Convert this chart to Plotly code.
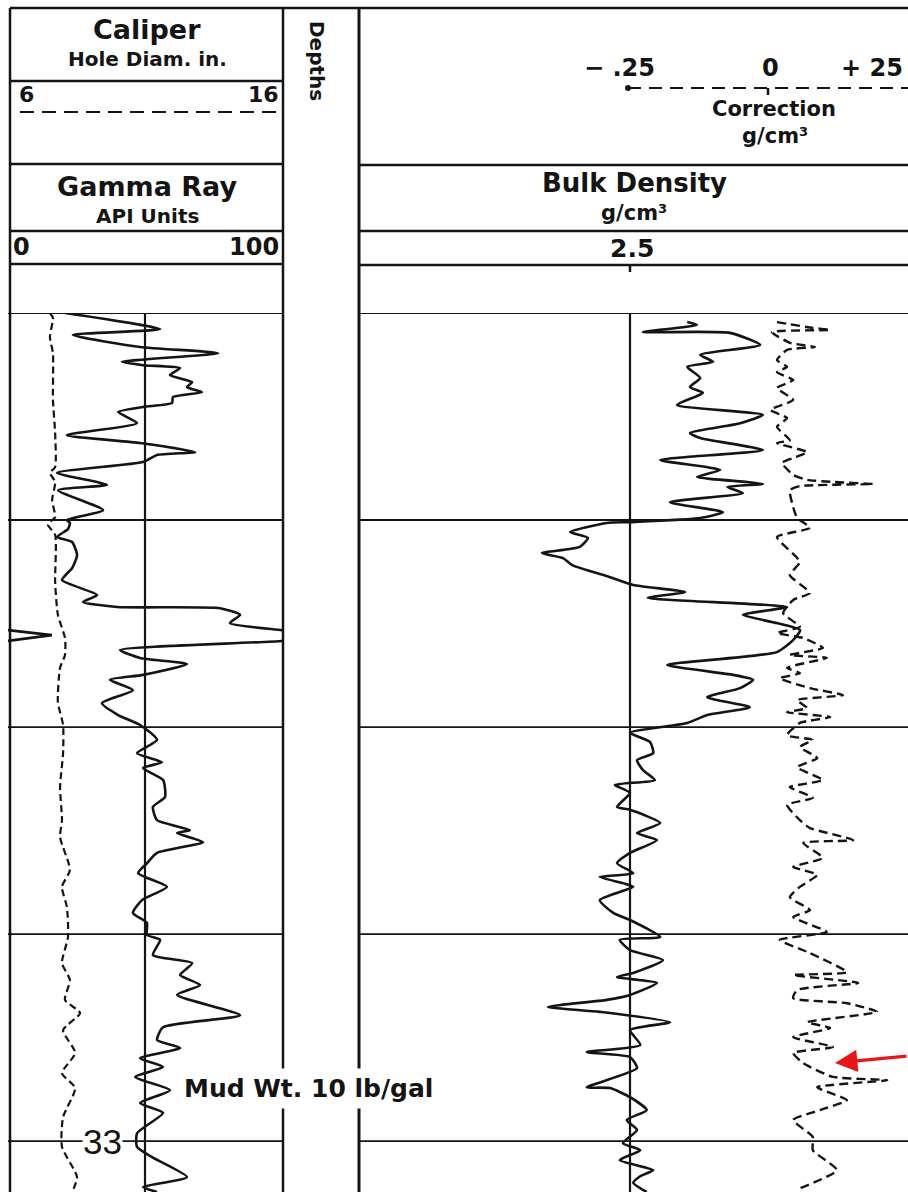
import plotly.graph_objects as go

# ---------------- data (read from the log) ----------------
# depth in ft below the top of the logged interval; grid every 50 ft
depth_grid = [0, 50, 100, 150, 200]

depth_gr = [0, 3.9, 5.3, 8.2, 9.7, 11.8, 12.6, 13.3, 15.0, 16.7, 17.9, 19.1, 20.3, 21.7, 22.7,
            23.9, 26.6, 29.5, 31.4, 33.6, 34.3, 36.0, 38.6, 41.5, 42.8, 47.6, 50.0, 50.7, 52.2,
            54.1, 55.3, 58.5, 61.6, 64.5, 68.1, 69.8, 71.0, 71.3, 72.9, 74.9, 76.6, 77.8, 79.2,
            81.4, 83.3, 84.8, 87.4, 88.6, 91.1, 94.2, 97.1, 99.5, 103.1, 106.3, 108.5, 109.9,
            112.8, 116.9, 119.3, 122.5, 124.9, 125.6, 127.8, 130.4, 132.9, 135.3, 138.6, 141.8,
            144.9, 147.3, 150.2, 151.4, 155.1, 157.0, 159.9, 162.3, 164.7, 169.6, 172.5, 175.6,
            177.5, 180.0, 182.1, 184.5, 187.7, 190.8, 193.2, 198.1, 201.4, 203.9, 208.7, 211.1,
            212.3]
gamma_ray = [20.8, 55.5, 23.7, 48.2, 76.7, 41.6, 49.3, 62.8, 59.1, 67.2, 65.3, 70.8, 60.2, 59.9,
             49.3, 40.2, 47.1, 21.5, 48.2, 68.3, 54.4, 49.3, 17.9, 36.1, 18.3, 34.7, 21.5, 22.6,
             21.9, 17.9, 23.4, 25.2, 23.4, 19.7, 32.5, 27.4, 39.8, 77.4, 84.7, 81.0, 100, 116, 100,
             40.9, 48.2, 65.3, 49.3, 37.2, 45.6, 34.3, 40.2, 48.2, 54.4, 47.1, 56.2, 49.3, 56.6,
             57.3, 52.9, 54.4, 66.4, 61.7, 71.2, 54.4, 50.7, 47.5, 58.0, 48.9, 45.6, 50.7, 50.7,
             55.5, 52.9, 67.2, 62.8, 70.1, 61.7, 84.7, 56.6, 54.4, 62.8, 48.2, 56.6, 46.4, 59.1,
             48.2, 56.6, 47.1, 47.1, 52.6, 65.3, 49.3, 54.4]

depth_cal = [0, 1.2, 5.8, 9.7, 21.0, 29.0, 37.2, 38.6, 40.8, 45.2, 49.3, 50.5, 51.2, 53.6, 65.0,
             72.9, 78.5, 82.6, 85.7, 94.0, 99.5, 106.3, 114.5, 122.5, 126.6, 134.5, 138.6, 143.5,
             150.7, 157.0, 161.1, 165.9, 169.1, 173.2, 178.7, 183.6, 187.2, 194.2, 201.4, 208.7,
             212.3]
caliper = [7.53, 7.64, 7.53, 7.64, 7.64, 7.72, 7.72, 7.53, 7.72, 7.61, 7.72, 7.53, 7.46, 7.72,
           7.72, 7.82, 8.08, 8.08, 7.90, 7.82, 8.01, 8.01, 7.90, 7.97, 7.90, 8.26, 7.97, 8.15,
           8.19, 7.97, 8.26, 8.08, 8.63, 8.01, 8.45, 7.97, 8.45, 8.01, 7.97, 8.52, 8.34]

depth_den = [2.2, 2.9, 4.6, 4.8, 7.7, 10.1, 11.8, 13.0, 15.7, 17.9, 19.3, 22.2, 24.6, 26.6, 29.0,
             30.2, 33.1, 35.5, 37.9, 39.6, 40.8, 41.3, 42.0, 43.5, 45.7, 48.1, 49.5, 50.5, 50.7,
             52.9, 54.3, 56.5, 58.0, 59.2, 60.9, 63.8, 65.7, 67.4, 68.8, 71.0, 72.9, 74.9, 76.6,
             79.0, 81.9, 85.0, 87.4, 88.6, 90.6, 92.8, 95.2, 97.1, 99.0, 101.4, 103.6, 106.3,
             108.0, 110.4, 112.8, 114.0, 115.9, 119.3, 120.0, 123.2, 125.6, 127.3, 130.4, 132.9,
             135.3, 136.2, 137.7, 138.6, 141.8, 144.9, 146.6, 150.7, 151.4, 153.9, 156.3, 159.4,
             160.4, 161.8, 164.7, 165.9, 167.6, 168.8, 171.3, 173.2, 176.8, 178.5, 179.7, 182.4,
             187.0, 187.2, 189.4, 192.5, 194.9, 197.3, 200.5, 202.2, 204.6, 207.0, 208.5, 210.1,
             212.3]
bulk_density = [2.606, 2.624, 2.524, 2.685, 2.741, 2.630, 2.654, 2.606, 2.630, 2.611, 2.635,
                2.587, 2.746, 2.704, 2.611, 2.630, 2.746, 2.556, 2.667, 2.624, 2.717, 2.746,
                2.680, 2.709, 2.574, 2.672, 2.630, 2.500, 2.457, 2.389, 2.422, 2.407, 2.337,
                2.376, 2.393, 2.463, 2.506, 2.602, 2.533, 2.791, 2.709, 2.772, 2.815, 2.802,
                2.772, 2.569, 2.691, 2.728, 2.704, 2.643, 2.722, 2.643, 2.606, 2.500, 2.537,
                2.543, 2.513, 2.524, 2.546, 2.472, 2.500, 2.476, 2.500, 2.556, 2.513, 2.550,
                2.500, 2.476, 2.506, 2.444, 2.487, 2.506, 2.444, 2.469, 2.500, 2.556, 2.481,
                2.500, 2.561, 2.506, 2.476, 2.550, 2.500, 2.457, 2.348, 2.444, 2.574, 2.500,
                2.519, 2.420, 2.500, 2.513, 2.420, 2.463, 2.500, 2.531, 2.494, 2.513, 2.487,
                2.519, 2.481, 2.543, 2.519, 2.506, 2.531]

depth_corr = [2.2, 3.6, 4.1, 4.6, 7.2, 8.2, 8.9, 11.4, 13.0, 14.3, 16.2, 18.1, 21.0, 23.4, 25.4,
              27.5, 30.7, 31.4, 33.6, 35.0, 36.2, 39.1, 40.3, 40.8, 41.3, 41.8, 42.8, 46.9, 49.5,
              51.9, 54.1, 60.1, 63.3, 67.6, 69.3, 72.5, 75.8, 77.3, 78.5, 80.9, 82.6, 83.3, 85.7,
              87.0, 88.2, 90.6, 92.3, 93.5, 95.4, 96.4, 97.6, 99.0, 102.0, 103.1, 104.8, 107.5,
              109.7, 112.8, 114.5, 117.1, 118.8, 122.5, 124.4, 127.3, 128.0, 131.6, 133.8, 135.7,
              138.6, 141.1, 144.2, 145.9, 149.5, 151.4, 154.6, 159.2, 159.9, 161.8, 163.5, 165.5,
              166.7, 168.8, 171.3, 172.7, 174.9, 177.3, 178.7, 181.2, 184.5, 185.3, 187.0, 190.1,
              192.5, 194.9, 199.0, 202.2, 207.0, 211.4]
correction = [0.016, 0.080, 0.111, 0.007, 0.039, 0.084, 0.034, 0.016, 0.034, 0.016, 0.045, 0.016,
              0.045, 0.004, 0.034, 0.016, 0.039, 0.016, 0.070, 0.045, 0.025, 0.045, 0.070, 0.116,
              0.188, 0.057, 0.039, 0.045, 0.052, 0.075, 0.016, 0.057, 0.039, 0.075, 0.045, 0.027,
              0.057, 0.016, 0.063, 0.098, 0.039, 0.105, 0.034, 0.057, 0.021, 0.075, 0.134, 0.052,
              0.070, 0.034, 0.111, 0.057, 0.034, 0.080, 0.057, 0.088, 0.052, 0.098, 0.039, 0.080,
              0.034, 0.057, 0.075, 0.152, 0.063, 0.098, 0.045, 0.088, 0.057, 0.039, 0.075, 0.045,
              0.105, 0.021, 0.075, 0.141, 0.045, 0.161, 0.052, 0.045, 0.141, 0.195, 0.070, 0.111,
              0.045, 0.116, 0.045, 0.063, 0.116, 0.213, 0.088, 0.141, 0.093, 0.045, 0.080, 0.080,
              0.123, 0.057]

# ---------------- page geometry helpers (layout only) ----------------
W, H = 908, 1192
def X(px):
    return px / W
def Y(py):
    return 1 - py / H

INK = "#141414"
FONT = "DejaVu Sans"

fig = go.Figure()

solid = dict(color=INK, width=2.6, shape="spline", smoothing=0.55)
fig.add_trace(go.Scatter(x=gamma_ray, y=depth_gr, xaxis="x", yaxis="y", mode="lines",
                         line=solid, hoverinfo="skip"))
# back-up (wrap-around) trace where gamma ray exceeds 100 API
wrap_d = [d for d, g in zip(depth_gr, gamma_ray) if g >= 100]
wrap_g = [g - 100 for g in gamma_ray if g >= 100]
fig.add_trace(go.Scatter(x=wrap_g, y=wrap_d, xaxis="x", yaxis="y", mode="lines",
                         line=dict(color=INK, width=2.6), hoverinfo="skip"))
fig.add_trace(go.Scatter(x=caliper, y=depth_cal, xaxis="x2", yaxis="y", mode="lines",
                         line=dict(color=INK, width=2.2, dash="7px,4px", shape="spline",
                                   smoothing=0.6), hoverinfo="skip"))
fig.add_trace(go.Scatter(x=bulk_density, y=depth_den, xaxis="x3", yaxis="y", mode="lines",
                         line=solid, hoverinfo="skip"))
fig.add_trace(go.Scatter(x=correction, y=depth_corr, xaxis="x4", yaxis="y", mode="lines",
                         line=dict(color=INK, width=2.4, dash="9px,5px", shape="spline",
                                   smoothing=0.5), hoverinfo="skip"))

shapes = []
def pline(x0, y0, x1, y1, w=2.5, dash=None):
    ln = dict(color=INK, width=w)
    if dash:
        ln["dash"] = dash
    shapes.append(dict(type="line", xref="paper", yref="paper",
                       x0=X(x0), y0=Y(y0), x1=X(x1), y1=Y(y1), line=ln, layer="above"))

# outer frame and track borders
pline(10, 8, 908, 8)
pline(10, 8, 10, 1192)
pline(283, 8, 283, 1192)
pline(359, 8, 359, 1192, w=3)
# left header rules
for yy in [81, 164, 231, 264]:
    pline(10, yy, 283, yy)
# right header rules
for yy in [165, 231, 265]:
    pline(359, yy, 908, yy)
# caliper scale dashed line
pline(20, 112, 278, 112, w=2.2, dash="14px,8px")
# correction scale dashed line
pline(628, 88, 908, 88, w=2.2, dash="13px,8px")
shapes.append(dict(type="circle", xref="paper", yref="paper", x0=X(625), x1=X(631),
                   y0=Y(91), y1=Y(85), fillcolor=INK, line=dict(width=0)))
shapes.append(dict(type="line", xref="x4", yref="paper", x0=0, x1=0, y0=Y(88), y1=Y(95),
                   line=dict(color=INK, width=2.5)))
# 2.5 tick under the density scale
shapes.append(dict(type="line", xref="x3", yref="paper", x0=2.5, x1=2.5, y0=Y(265), y1=Y(272),
                   line=dict(color=INK, width=2.5)))

# depth grid in both tracks
for d in depth_grid:
    for ax in ["x domain", "x3 domain"]:
        shapes.append(dict(type="line", xref=ax, yref="y", x0=0, x1=1, y0=d, y1=d,
                           line=dict(color=INK, width=1.8)))
# track centre lines
shapes.append(dict(type="line", xref="x", yref="y", x0=50, x1=50, y0=0, y1=212.3,
                   line=dict(color=INK, width=2.2)))
shapes.append(dict(type="line", xref="x3", yref="y", x0=2.5, x1=2.5, y0=0, y1=212.3,
                   line=dict(color=INK, width=2.2)))

ann = []
def txt(s, x, y, size, xanchor="center", angle=0, bold=True, family=FONT, bg=None, pad=0):
    a = dict(text=("<b>%s</b>" % s) if bold else s, xref="paper", yref="paper",
             x=X(x), y=Y(y), xanchor=xanchor, yanchor="middle", showarrow=False,
             textangle=angle, font=dict(family=family, size=size, color=INK), borderpad=pad)
    if bg:
        a["bgcolor"] = bg
    ann.append(a)

txt("Caliper", 147, 29, 27)
txt("Hole Diam. in.", 147, 59, 20)
txt("6", 18, 95, 22, xanchor="left")
txt("16", 280, 95, 22, xanchor="right")
txt("Gamma Ray", 147, 186, 27)
txt("API Units", 147, 216, 20)
txt("0", 12, 247, 24, xanchor="left")
txt("100", 280, 247, 24, xanchor="right")
txt("Depths", 317, 61, 20, angle=90)

txt("\u2212 .25", 619, 68, 24)
txt("0", 770, 68, 24)
txt("+ 25", 872, 68, 24)
txt("Correction", 774, 109, 21)
txt("g/cm\u00b3", 775, 136, 21)
txt("Bulk Density", 634, 183, 26)
txt("g/cm\u00b3", 634, 213, 21)
txt("2.5", 632, 248, 25)

txt("Mud Wt. 10 lb/gal", 178, 1088, 25, xanchor="left", bg="white", pad=5)
txt("33", 102, 1141, 35, bold=False, family="Liberation Sans", bg="white", pad=0)

# red arrow pointing at the correction curve
ann.append(dict(x=X(835), y=Y(1063), xref="paper", yref="paper", text="", showarrow=True,
                ax=78, ay=-7, arrowhead=2, arrowsize=1.4, arrowwidth=3.2,
                arrowcolor="#e8151b", standoff=0))

fig.update_layout(
    width=W, height=H, margin=dict(l=0, r=0, t=0, b=0),
    paper_bgcolor="white", plot_bgcolor="white", showlegend=False,
    xaxis=dict(domain=[X(8), X(282)], range=[0, 100], visible=False, anchor="y",
               fixedrange=True),
    xaxis2=dict(domain=[X(8), X(282)], range=[6, 16], visible=False, anchor="y",
                overlaying="x", fixedrange=True),
    xaxis3=dict(domain=[X(360), 1], range=[2.0, 3.0148], visible=False, anchor="y",
                fixedrange=True),
    xaxis4=dict(domain=[X(360), 1], range=[-0.7286, 0.25], visible=False, anchor="y",
                overlaying="x3", fixedrange=True),
    yaxis=dict(domain=[0, Y(313)], range=[212.3, 0], visible=False, fixedrange=True),
    shapes=shapes, annotations=ann,
)

fig.write_html("out.html")
